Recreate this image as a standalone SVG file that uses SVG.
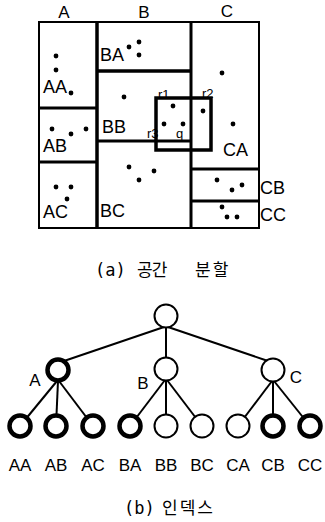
<svg xmlns="http://www.w3.org/2000/svg" width="325" height="522" viewBox="0 0 325 522">
<style>
.lbl{font-family:"Liberation Sans",Arial,sans-serif;font-size:17px;fill:#000}
.plbl{font-family:"Liberation Sans",Arial,sans-serif;font-size:18px;fill:#000}
.sm{font-family:"Liberation Sans",Arial,sans-serif;font-size:13px;fill:#000}
.cap{font-family:"Noto Sans CJK KR",sans-serif;font-size:17px;fill:#000}
.mono{font-family:"DejaVu Sans Mono",monospace;font-size:17px;fill:#000}
.part{stroke:#000;fill:none}
.dot{fill:#000}
.edge{stroke:#000;stroke-width:2;fill:none}
.thin{fill:#fff;stroke:#000;stroke-width:2}
.thick{fill:#fff;stroke:#000;stroke-width:4.5}
</style>
<rect width="325" height="522" fill="#fff"/>
<g id="partition">
  <rect class="part" x="39" y="22" width="220" height="206" stroke-width="2"/>
  <line class="part" x1="97" y1="22" x2="97" y2="228" stroke-width="3.5"/>
  <line class="part" x1="191" y1="22" x2="191" y2="228" stroke-width="3"/>
  <line class="part" x1="39" y1="108" x2="97" y2="108" stroke-width="3"/>
  <line class="part" x1="39" y1="162" x2="97" y2="162" stroke-width="3"/>
  <line class="part" x1="97" y1="71" x2="191" y2="71" stroke-width="3.5"/>
  <line class="part" x1="97" y1="141" x2="191" y2="141" stroke-width="3"/>
  <line class="part" x1="191" y1="169" x2="259" y2="169" stroke-width="3"/>
  <line class="part" x1="191" y1="201" x2="259" y2="201" stroke-width="3"/>
  <rect id="query" class="part" x="156" y="98" width="55" height="52" stroke-width="3.5"/>
  <g id="dots">
    <circle class="dot" cx="56" cy="56" r="2.4"/><circle class="dot" cx="56" cy="70" r="2.4"/><circle class="dot" cx="71" cy="93" r="2.4"/>
    <circle class="dot" cx="129" cy="47" r="2.4"/><circle class="dot" cx="139" cy="42" r="2.4"/><circle class="dot" cx="139" cy="55" r="2.4"/>
    <circle class="dot" cx="124" cy="97" r="2.4"/><circle class="dot" cx="222" cy="73" r="2.4"/>
    <circle class="dot" cx="173" cy="106" r="2.4"/><circle class="dot" cx="203" cy="111" r="2.4"/><circle class="dot" cx="164" cy="124" r="2.4"/><circle class="dot" cx="183" cy="124" r="2.4"/>
    <circle class="dot" cx="233" cy="124" r="2.4"/>
    <circle class="dot" cx="52" cy="129" r="2.4"/><circle class="dot" cx="71" cy="134" r="2.4"/><circle class="dot" cx="86" cy="129" r="2.4"/>
    <circle class="dot" cx="56" cy="187" r="2.4"/><circle class="dot" cx="71" cy="187" r="2.4"/><circle class="dot" cx="67" cy="199" r="2.4"/>
    <circle class="dot" cx="129" cy="167" r="2.4"/><circle class="dot" cx="154" cy="171" r="2.4"/><circle class="dot" cx="139" cy="180" r="2.4"/>
    <circle class="dot" cx="217" cy="180" r="2.4"/><circle class="dot" cx="232" cy="190" r="2.4"/><circle class="dot" cx="242" cy="185" r="2.4"/>
    <circle class="dot" cx="222" cy="207" r="2.4"/><circle class="dot" cx="227" cy="217" r="2.4"/><circle class="dot" cx="237" cy="217" r="2.4"/>
  </g>
  <g id="partition-labels">
    <text class="lbl" x="64" y="18" text-anchor="middle">A</text>
    <text class="lbl" x="144" y="18" text-anchor="middle">B</text>
    <text class="lbl" x="227" y="17" text-anchor="middle">C</text>
    <text class="plbl" x="43" y="93">AA</text>
    <text class="plbl" x="100" y="61">BA</text>
    <text class="plbl" x="102" y="133">BB</text>
    <text class="plbl" x="43" y="152">AB</text>
    <text class="plbl" x="43" y="218">AC</text>
    <text class="plbl" x="100" y="217">BC</text>
    <text class="plbl" x="223" y="156">CA</text>
    <text class="plbl" x="260" y="194">CB</text>
    <text class="plbl" x="260" y="221">CC</text>
    <text class="sm" x="158" y="99">r1</text>
    <text class="sm" x="202" y="98">r2</text>
    <text class="sm" x="147" y="138">r3</text>
    <text class="sm" x="176" y="138">q</text>
  </g>
  <text class="mono" x="95" y="276">(a)</text>
  <text class="cap" x="137" y="276" letter-spacing="-1">공간</text>
  <text class="cap" x="195" y="276" letter-spacing="2">분할</text>
</g>
<g id="connectors">
  <line class="edge" x1="164" y1="327" x2="64" y2="361"/>
  <line class="edge" x1="166" y1="327" x2="166" y2="360"/>
  <line class="edge" x1="168" y1="327" x2="268" y2="361"/>
  <line class="edge" x1="57" y1="381" x2="20" y2="426"/>
  <line class="edge" x1="58" y1="381" x2="56" y2="426"/>
  <line class="edge" x1="59" y1="381" x2="93" y2="426"/>
  <line class="edge" x1="165" y1="380" x2="130" y2="426"/>
  <line class="edge" x1="166" y1="380" x2="166" y2="426"/>
  <line class="edge" x1="167" y1="380" x2="202" y2="426"/>
  <line class="edge" x1="272" y1="381" x2="238" y2="426"/>
  <line class="edge" x1="273" y1="381" x2="273" y2="426"/>
  <line class="edge" x1="274" y1="381" x2="310" y2="426"/>
</g>
<g id="root"><circle class="thin" cx="166" cy="316" r="11.5"/></g>
<g id="node-A"><circle class="thick" cx="58" cy="370" r="10.5"/><text class="lbl" x="35" y="386" text-anchor="middle">A</text></g>
<g id="node-B"><circle class="thin" cx="166" cy="369" r="11.5"/><text class="lbl" x="143" y="389" text-anchor="middle">B</text></g>
<g id="node-C"><circle class="thin" cx="273" cy="370" r="11.5"/><text class="lbl" x="296" y="383" text-anchor="middle">C</text></g>
<g id="node-AA"><circle class="thick" cx="20" cy="426" r="10.5"/><text class="lbl" x="20" y="471" text-anchor="middle">AA</text></g>
<g id="node-AB"><circle class="thick" cx="56" cy="426" r="10.5"/><text class="lbl" x="56" y="471" text-anchor="middle">AB</text></g>
<g id="node-AC"><circle class="thick" cx="93" cy="426" r="10.5"/><text class="lbl" x="93" y="471" text-anchor="middle">AC</text></g>
<g id="node-BA"><circle class="thick" cx="130" cy="426" r="10.5"/><text class="lbl" x="130" y="471" text-anchor="middle">BA</text></g>
<g id="node-BB"><circle class="thin" cx="166" cy="426" r="11.5"/><text class="lbl" x="166" y="471" text-anchor="middle">BB</text></g>
<g id="node-BC"><circle class="thin" cx="202" cy="426" r="11.5"/><text class="lbl" x="202" y="471" text-anchor="middle">BC</text></g>
<g id="node-CA"><circle class="thin" cx="238" cy="426" r="11.5"/><text class="lbl" x="238" y="471" text-anchor="middle">CA</text></g>
<g id="node-CB"><circle class="thick" cx="273" cy="426" r="10.5"/><text class="lbl" x="273" y="471" text-anchor="middle">CB</text></g>
<g id="node-CC"><circle class="thick" cx="310" cy="426" r="10.5"/><text class="lbl" x="310" y="471" text-anchor="middle">CC</text></g>
<text class="mono" x="124" y="514">(b)</text>
<text class="cap" x="162" y="514" letter-spacing="2">인덱스</text>
</svg>
